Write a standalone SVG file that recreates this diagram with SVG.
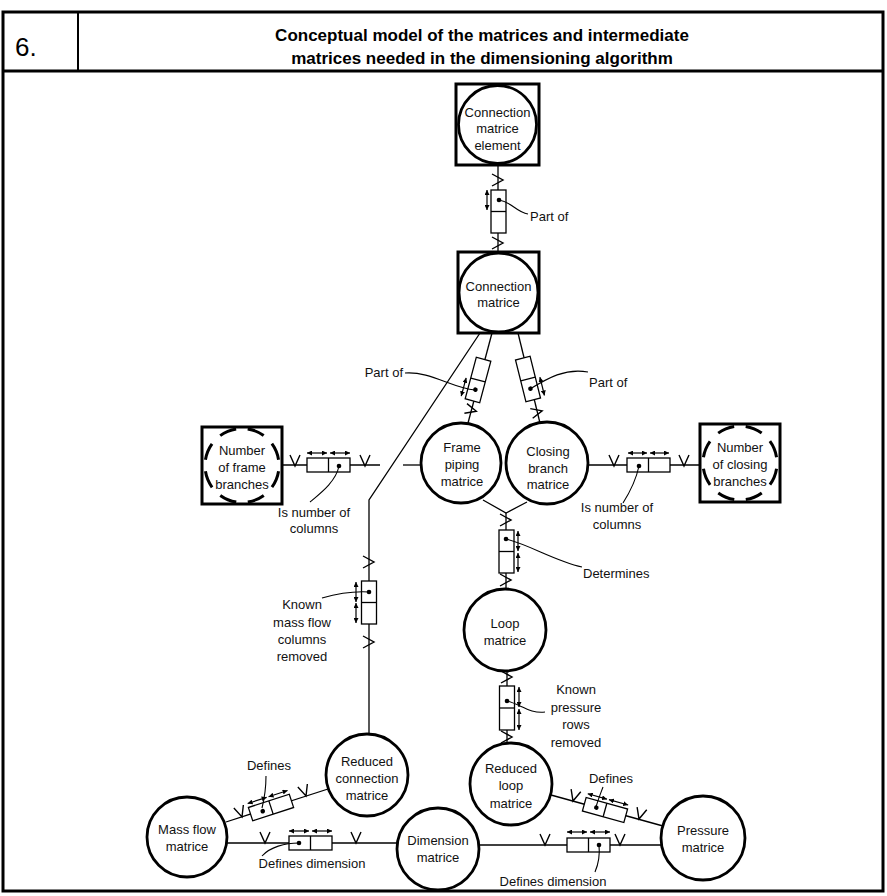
<svg xmlns="http://www.w3.org/2000/svg" width="887" height="896" viewBox="0 0 887 896">
<defs>
<marker id="ah" viewBox="0 0 6 6" refX="6" refY="3" markerWidth="5" markerHeight="5" markerUnits="userSpaceOnUse" orient="auto-start-reverse"><path d="M0,0 L6,3 L0,6 z" fill="#000"/></marker>
</defs>
<style>
.t{font-family:"Liberation Sans",Arial,sans-serif;font-size:13px;fill:#111;text-anchor:middle}
.l{text-anchor:start}
.e{text-anchor:end}
.sq{fill:#fff;stroke:#000;stroke-width:3}
.c{fill:#fff;stroke:#000;stroke-width:2.8}
.dc{fill:none;stroke:#000;stroke-width:3;stroke-dasharray:17.4 11.6;stroke-dashoffset:-5.8}
.ln{fill:none;stroke:#000;stroke-width:1.3}
.bx{fill:#fff;stroke:#000;stroke-width:1.3}
.ch{fill:none;stroke:#000;stroke-width:1.4}
.ar{fill:none;stroke:#000;stroke-width:1.2;marker-start:url(#ah);marker-end:url(#ah)}
.cv{fill:none;stroke:#000;stroke-width:1.1}
.hd{font-family:"Liberation Sans",Arial,sans-serif;font-weight:bold;font-size:17px;text-anchor:middle;fill:#000}
</style>
<rect width="887" height="896" fill="#fff"/>
<g id="frame">
<rect x="3" y="12" width="880" height="879" fill="none" stroke="#000" stroke-width="3"/>
<line x1="3" y1="71" x2="883" y2="71" stroke="#000" stroke-width="3"/>
<line x1="78" y1="12" x2="78" y2="71" stroke="#000" stroke-width="2"/>
<text x="15" y="56" font-family="Liberation Sans, Arial, sans-serif" font-size="26">6.</text>
<text class="hd" x="482" y="41">Conceptual model of the matrices and intermediate</text>
<text class="hd" x="482" y="64">matrices needed in the dimensioning algorithm</text>
</g>
<g id="connectors">
<g id="c1">
<line class="ln" x1="498" y1="165" x2="498" y2="252"/>
<path class="ch" d="M492,174 L503,180 L492,186"/>
<path class="ch" d="M492,237 L503,243 L492,249"/>
<rect class="bx" x="491" y="190" width="15" height="43"/>
<line class="ln" x1="491" y1="211.5" x2="506" y2="211.5"/>
<line class="ar" x1="487" y1="190" x2="487" y2="210"/>
<circle cx="499" cy="200" r="2.3"/>
<path class="cv" d="M499,200 C512,202 516,212 528,214"/>
<text class="t l" x="530" y="221">Part of</text>
</g>
<g id="c2">
<line class="ln" x1="492" y1="333" x2="468" y2="423"/>
<path class="ch" d="M-6,-5 L5,0 L-6,5" transform="translate(471.5,410) rotate(15)"/>
<g transform="translate(478,380) rotate(15)">
<rect class="bx" x="-7.5" y="-21.5" width="15" height="43"/>
<line class="ln" x1="-7.5" y1="0" x2="7.5" y2="0"/>
<line class="ar" x1="-12" y1="1" x2="-12" y2="20"/>
<circle cx="0" cy="10" r="2.3"/>
</g>
<path class="cv" d="M405,373 C430,371 452,388 475,390"/>
<text class="t e" x="403" y="377">Part of</text>
</g>
<g id="c3">
<line class="ln" x1="518" y1="333" x2="540" y2="423"/>
<path class="ch" d="M-6,-5 L5,0 L-6,5" transform="translate(537.3,412) rotate(-14)"/>
<g transform="translate(528,379) rotate(-14)">
<rect class="bx" x="-7.5" y="-21.5" width="15" height="43"/>
<line class="ln" x1="-7.5" y1="0" x2="7.5" y2="0"/>
<line class="ar" x1="12" y1="1" x2="12" y2="20"/>
<circle cx="0" cy="10" r="2.3"/>
</g>
<path class="cv" d="M530,389 C548,378 565,368 588,372"/>
<text class="t l" x="589" y="387">Part of</text>
</g>
<g id="c4">
<line class="ln" x1="282" y1="465" x2="380" y2="465"/>
<line class="ln" x1="403" y1="465" x2="421" y2="465"/>
<path class="ch" d="M290,455 L295,466 L300,455"/>
<path class="ch" d="M360,455 L365,466 L370,455"/>
<rect class="bx" x="307" y="458" width="43" height="14"/>
<line class="ln" x1="328.5" y1="458" x2="328.5" y2="472"/>
<line class="ar" x1="307" y1="453" x2="327" y2="453"/>
<line class="ar" x1="330" y1="453" x2="350" y2="453"/>
<circle cx="339" cy="466" r="2.3"/>
<path class="cv" d="M339,466 C336,481 322,492 310,502"/>
<text class="t" x="314" y="517">Is number of</text>
<text class="t" x="314" y="533">columns</text>
</g>
<g id="c5">
<line class="ln" x1="587" y1="465" x2="700" y2="465"/>
<path class="ch" d="M609,455 L614,466 L619,455"/>
<path class="ch" d="M679,455 L684,466 L689,455"/>
<rect class="bx" x="627" y="458" width="43" height="14"/>
<line class="ln" x1="648.5" y1="458" x2="648.5" y2="472"/>
<line class="ar" x1="628" y1="453" x2="647" y2="453"/>
<line class="ar" x1="650" y1="453" x2="669" y2="453"/>
<circle cx="639" cy="466" r="2.3"/>
<path class="cv" d="M639,466 C636,480 630,492 623,503"/>
<text class="t" x="617" y="512">Is number of</text>
<text class="t" x="617" y="529">columns</text>
</g>
<g id="c6">
<path class="ln" d="M483,500 L506,513 L527,502"/>
<line class="ln" x1="506" y1="513" x2="506" y2="589"/>
<path class="ch" d="M500,514 L511,520 L500,526"/>
<path class="ch" d="M500,574 L511,580 L500,586"/>
<rect class="bx" x="499" y="530" width="15" height="43"/>
<line class="ln" x1="499" y1="551.5" x2="514" y2="551.5"/>
<line class="ar" x1="518" y1="531" x2="518" y2="551"/>
<line class="ar" x1="518" y1="553" x2="518" y2="572"/>
<circle cx="506" cy="539" r="2.3"/>
<path class="cv" d="M506,539 C530,545 555,561 582,567"/>
<text class="t l" x="583" y="578">Determines</text>
</g>
<g id="c7">
<line class="ln" x1="507" y1="671" x2="507" y2="743"/>
<path class="ch" d="M501,671 L512,677 L501,683"/>
<path class="ch" d="M501,731 L512,737 L501,743"/>
<rect class="bx" x="499.5" y="686" width="15" height="44"/>
<line class="ln" x1="499.5" y1="708" x2="514.5" y2="708"/>
<line class="ar" x1="519" y1="687" x2="519" y2="707"/>
<line class="ar" x1="519" y1="709" x2="519" y2="730"/>
<circle cx="507" cy="701" r="2.3"/>
<path class="cv" d="M507,701 C520,704 530,714 545,712"/>
<text class="t" x="576" y="694">Known</text>
<text class="t" x="576" y="712">pressure</text>
<text class="t" x="576" y="729">rows</text>
<text class="t" x="576" y="747">removed</text>
</g>
<g id="c8">
<path class="ln" d="M480,333 L369,500 L369,734"/>
<path class="ch" d="M363,556 L374,562 L363,568"/>
<path class="ch" d="M363,636 L374,642 L363,648"/>
<rect class="bx" x="361.5" y="581" width="15" height="43"/>
<line class="ln" x1="361.5" y1="602.5" x2="376.5" y2="602.5"/>
<line class="ar" x1="356" y1="582" x2="356" y2="602"/>
<line class="ar" x1="356" y1="603" x2="356" y2="623"/>
<circle cx="369" cy="592" r="2.3"/>
<path class="cv" d="M369,592 C352,591 336,594 322,598"/>
<text class="t" x="302" y="609">Known</text>
<text class="t" x="302" y="627">mass flow</text>
<text class="t" x="302" y="644">columns</text>
<text class="t" x="302" y="661">removed</text>
</g>
<g id="c9">
<line class="ln" x1="226" y1="822" x2="328" y2="789"/>
<path class="ch" d="M-5,-11 L0,0 L5,-11" transform="translate(242,817) rotate(-18)"/>
<path class="ch" d="M-5,-11 L0,0 L5,-11" transform="translate(306,796) rotate(-18)"/>
<g transform="translate(271,807.5) rotate(-18)">
<rect class="bx" x="-21.5" y="-7" width="43" height="14"/>
<line class="ln" x1="0" y1="-7" x2="0" y2="7"/>
<line class="ar" x1="-21" y1="-11" x2="-1" y2="-11"/>
<line class="ar" x1="1" y1="-11" x2="21" y2="-11"/>
<circle cx="-9" cy="1" r="2.3"/>
</g>
<path class="cv" d="M266,776 C266,790 264,800 262,808"/>
<text class="t" x="269" y="770">Defines</text>
</g>
<g id="c10">
<line class="ln" x1="551" y1="795" x2="663" y2="826"/>
<path class="ch" d="M-5,-11 L0,0 L5,-11" transform="translate(573,801) rotate(15.5)"/>
<path class="ch" d="M-5,-11 L0,0 L5,-11" transform="translate(639,819) rotate(15.5)"/>
<g transform="translate(605,810) rotate(15.5)">
<rect class="bx" x="-21.5" y="-7" width="43" height="14"/>
<line class="ln" x1="0" y1="-7" x2="0" y2="7"/>
<line class="ar" x1="-21" y1="-11" x2="-1" y2="-11"/>
<line class="ar" x1="1" y1="-11" x2="21" y2="-11"/>
<circle cx="-9" cy="0" r="2.3"/>
</g>
<path class="cv" d="M603,787 C600,795 598,800 596,807"/>
<text class="t" x="611" y="783">Defines</text>
</g>
<g id="c11">
<line class="ln" x1="227" y1="843" x2="397" y2="843"/>
<path class="ch" d="M260,832 L265,843 L270,832"/>
<path class="ch" d="M351,832 L356,843 L361,832"/>
<rect class="bx" x="289" y="836" width="43" height="14"/>
<line class="ln" x1="310.5" y1="836" x2="310.5" y2="850"/>
<line class="ar" x1="289" y1="831" x2="309" y2="831"/>
<line class="ar" x1="312" y1="831" x2="332" y2="831"/>
<circle cx="299" cy="843" r="2.3"/>
<path class="cv" d="M299,843 C285,843 270,847 262,856"/>
<text class="t" x="312" y="868">Defines dimension</text>
</g>
<g id="c12">
<line class="ln" x1="479" y1="845" x2="662" y2="845"/>
<path class="ch" d="M540,834 L545,845 L550,834"/>
<path class="ch" d="M615,834 L620,845 L625,834"/>
<rect class="bx" x="567" y="838" width="43" height="14"/>
<line class="ln" x1="588.5" y1="838" x2="588.5" y2="852"/>
<line class="ar" x1="567" y1="832" x2="587" y2="832"/>
<line class="ar" x1="590" y1="832" x2="610" y2="832"/>
<circle cx="599" cy="845" r="2.3"/>
<path class="cv" d="M599,845 C600,855 598,865 595,872"/>
<text class="t" x="553" y="886">Defines dimension</text>
</g>
</g>
<g id="n-cme">
<rect class="sq" x="456" y="84" width="83" height="81"/>
<circle class="c" cx="497.5" cy="124.5" r="39"/>
<text class="t" x="497.5" y="116.5">Connection</text>
<text class="t" x="497.5" y="133">matrice</text>
<text class="t" x="497.5" y="149.5">element</text>
</g>
<g id="n-cm">
<rect class="sq" x="458" y="252" width="81" height="81"/>
<circle class="c" cx="498.5" cy="292.5" r="39.5"/>
<text class="t" x="498.5" y="290.5">Connection</text>
<text class="t" x="498.5" y="306.5">matrice</text>
</g>
<g id="n-nfb">
<rect class="sq" x="202" y="427" width="80" height="77"/>
<circle class="dc" cx="242" cy="465.5" r="37"/>
<text class="t" x="242" y="454.5">Number</text>
<text class="t" x="242" y="471.5">of frame</text>
<text class="t" x="242" y="488.5">branches</text>
</g>
<g id="n-fpm">
<circle class="c" cx="461" cy="463" r="40"/>
<text class="t" x="462" y="451.5">Frame</text>
<text class="t" x="462" y="468.5">piping</text>
<text class="t" x="462" y="485.5">matrice</text>
</g>
<g id="n-cbm">
<circle class="c" cx="547" cy="463" r="41"/>
<text class="t" x="548" y="455.5">Closing</text>
<text class="t" x="548" y="472.5">branch</text>
<text class="t" x="548" y="488.5">matrice</text>
</g>
<g id="n-ncb">
<rect class="sq" x="700" y="424" width="80" height="78"/>
<circle class="dc" cx="740" cy="463" r="37"/>
<text class="t" x="740" y="451.5">Number</text>
<text class="t" x="740" y="468.5">of closing</text>
<text class="t" x="740" y="485.5">branches</text>
</g>
<g id="n-loop">
<circle class="c" cx="505" cy="630" r="41"/>
<text class="t" x="505" y="627.5">Loop</text>
<text class="t" x="505" y="644.5">matrice</text>
</g>
<g id="n-rcm">
<circle class="c" cx="367" cy="775" r="41"/>
<text class="t" x="367" y="765.5">Reduced</text>
<text class="t" x="367" y="782.5">connection</text>
<text class="t" x="367" y="799.5">matrice</text>
</g>
<g id="n-rlm">
<circle class="c" cx="511" cy="784" r="41"/>
<text class="t" x="511" y="772.5">Reduced</text>
<text class="t" x="511" y="790">loop</text>
<text class="t" x="511" y="807.5">matrice</text>
</g>
<g id="n-mfm">
<circle class="c" cx="187" cy="837" r="40"/>
<text class="t" x="187" y="834">Mass flow</text>
<text class="t" x="187" y="851">matrice</text>
</g>
<g id="n-dm">
<circle class="c" cx="438" cy="849" r="41"/>
<text class="t" x="438" y="844.5">Dimension</text>
<text class="t" x="438" y="861.5">matrice</text>
</g>
<g id="n-pm">
<circle class="c" cx="703" cy="838" r="42"/>
<text class="t" x="703" y="834.5">Pressure</text>
<text class="t" x="703" y="851.5">matrice</text>
</g>
</svg>
